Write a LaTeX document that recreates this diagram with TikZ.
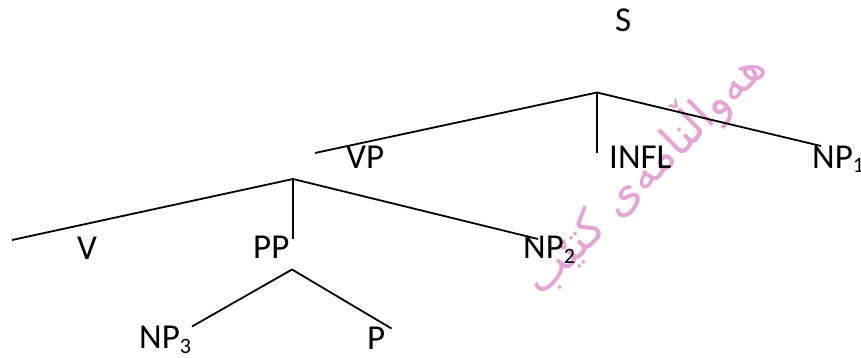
\documentclass[tikz,border=0pt]{standalone}
\usepackage{fontspec}
\setmainfont{Carlito}
\newfontfamily\arabicfont[Script=Arabic]{DejaVu Sans}
\TeXXeTstate=1
\definecolor{wmpink}{RGB}{228,165,212}
\newcommand\mysub[1]{{\fontsize{22}{22}\selectfont\raisebox{-5pt}{#1}}}
\tikzset{
  lbl/.style={inner sep=0pt, anchor=base west, font=\fontsize{35}{42}\selectfont},
  edge/.style={line width=1.8pt, black},
  wm/.style={inner sep=0pt, text=wmpink, font=\fontsize{46}{52}\selectfont\arabicfont}
}
\begin{document}
\begin{tikzpicture}[x=1pt,y=-1pt]
\useasboundingbox (0,0) rectangle (861,358);
% watermark
\node[wm, rotate=45] (wmark) at (643,172) {\beginR هەواڵنامەی کتێب\endR};
% labels
\node[lbl] (S) at (615,32) {S};
\node[lbl] (VP) at (346,168) {VP};
\node[lbl] (INFL) at (609,168) {INFL};
\node[lbl] (NP1) at (812,168) {NP\mysub{1}};
\node[lbl] (V) at (77,259) {V};
\node[lbl] (PP) at (253,258) {PP};
\node[lbl] (NP2) at (523,258) {NP\mysub{2}};
\node[lbl] (NP3) at (139,348) {NP\mysub{3}};
\node[lbl] (P) at (367,349) {P};
% branch points
\coordinate (sA) at (597,92.5);
\coordinate (sL) at (315,153);
\coordinate (sM) at (597,153);
\coordinate (sR) at (821,146);
\coordinate (vA) at (293,179);
\coordinate (vL) at (12,240);
\coordinate (vM) at (293,239);
\coordinate (vR) at (538,239);
\coordinate (pA) at (292,269.5);
\coordinate (pL) at (192,326.5);
\coordinate (pR) at (391.5,328.5);
% edges
\draw[edge] (sL) -- (sA) -- (sR);
\draw[edge] (sA) -- (sM);
\draw[edge] (vL) -- (vA) -- (vR);
\draw[edge] (vA) -- (vM);
\draw[edge] (pL) -- (pA) -- (pR);
\end{tikzpicture}
\end{document}
